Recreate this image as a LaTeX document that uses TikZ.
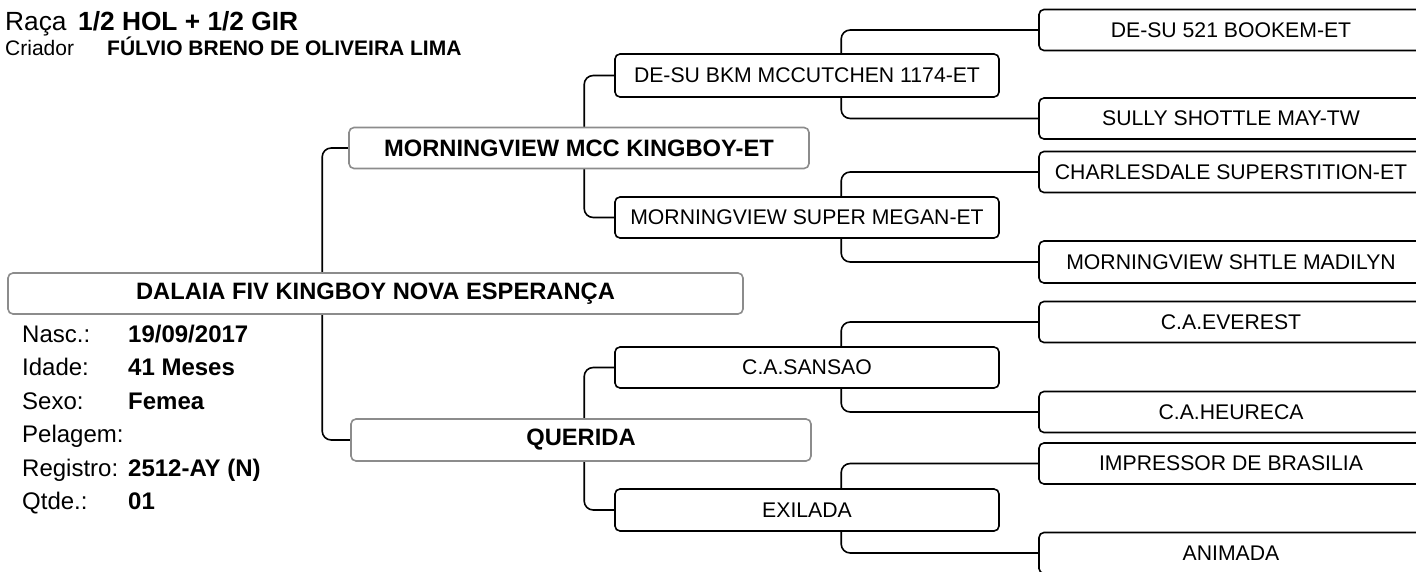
\documentclass[tikz,border=0pt]{standalone}
\usepackage{fontspec}
\setmainfont{Liberation Sans}
\usetikzlibrary{backgrounds}
\definecolor{ink}{HTML}{000000}
\definecolor{framegray}{HTML}{8C8C8C}
\tikzset{
  animalbox/.style={rectangle,rounded corners=5pt,draw=framegray,line width=1.6pt,
    fill=white,text=ink,align=center,font=\fontsize{23.7}{28}\selectfont\bfseries,
    minimum height=41pt,inner sep=0pt},
  ancestorbox/.style={rectangle,rounded corners=5pt,draw=ink,line width=1.6pt,
    fill=white,text=ink,align=center,font=\fontsize{21.2}{25}\selectfont,
    minimum width=384pt,minimum height=41pt,inner sep=0pt},
  treeline/.style={line width=1.6pt,color=ink,rounded corners=9pt},
  infolabel/.style={anchor=base west,inner sep=0pt,text=ink,font=\fontsize{24}{28}\selectfont},
  infovalue/.style={anchor=base west,inner sep=0pt,text=ink,font=\fontsize{24}{28}\selectfont\bfseries},
}

\begin{document}
\begin{tikzpicture}[x=1pt,y=-1pt]
  \useasboundingbox (0,0) rectangle (1416,572);

  % header
  \node[infolabel,font=\fontsize{26.3}{30}\selectfont] (raca) at (5,31) {Raça};
  \node[infovalue,font=\fontsize{26.3}{30}\selectfont\bfseries] (racav) at (78,31) {1/2 HOL + 1/2 GIR};
  \node[infolabel,font=\fontsize{21}{25}\selectfont] (criador) at (5,56) {Criador};
  \node[infovalue,font=\fontsize{21}{25}\selectfont\bfseries] (criadorv) at (107,56) {FÚLVIO BRENO DE OLIVEIRA LIMA};

  % animal
  \node[animalbox,minimum width=735pt] (anim) at (375.5,293.5) {DALAIA FIV KINGBOY NOVA ESPERANÇA};
  \node[infolabel] (nasc) at (22,342) {Nasc.:};
  \node[infovalue] (nascv) at (128,342) {19/09/2017};
  \node[infolabel] (idade) at (22,375.5) {Idade:};
  \node[infovalue] (idadev) at (128,375.5) {41 Meses};
  \node[infolabel] (sexo) at (22,409) {Sexo:};
  \node[infovalue] (sexov) at (128,409) {Femea};
  \node[infolabel] (pelagem) at (22,442.5) {Pelagem:};
  \node[infolabel] (registro) at (22,476) {Registro:};
  \node[infovalue] (registrov) at (128,476) {2512-AY (N)};
  \node[infolabel] (qtde) at (22,509.5) {Qtde.:};
  \node[infovalue] (qtdev) at (128,509.5) {01};

  % parents
  \node[animalbox,minimum width=460pt] (pai) at (579,148) {MORNINGVIEW MCC KINGBOY-ET};
  \node[animalbox,minimum width=460pt,minimum height=42pt] (mae) at (581,440) {QUERIDA};

  % grandparents
  \node[ancestorbox,minimum height=43pt] (avpp) at (807,75.5) {DE-SU BKM MCCUTCHEN 1174-ET};
  \node[ancestorbox] (avmp) at (807,217.5) {MORNINGVIEW SUPER MEGAN-ET};
  \node[ancestorbox] (avpm) at (807,367.5) {C.A.SANSAO};
  \node[ancestorbox,minimum height=42pt] (avmm) at (807,510) {EXILADA};

  % great-grandparents
  \node[ancestorbox] (bpp1) at (1231,30) {DE-SU 521 BOOKEM-ET};
  \node[ancestorbox] (bpp2) at (1231,118.5) {SULLY SHOTTLE MAY-TW};
  \node[ancestorbox] (bmp1) at (1231,172) {CHARLESDALE SUPERSTITION-ET};
  \node[ancestorbox,minimum height=42pt] (bmp2) at (1231,262) {MORNINGVIEW SHTLE MADILYN};
  \node[ancestorbox] (bpm1) at (1231,322) {C.A.EVEREST};
  \node[ancestorbox] (bpm2) at (1231,412) {C.A.HEURECA};
  \node[ancestorbox] (bmm1) at (1231,463.5) {IMPRESSOR DE BRASILIA};
  \node[ancestorbox] (bmm2) at (1231,553) {ANIMADA};

  \begin{scope}[on background layer]
    \draw[treeline] (pai.west) -- ++(-26,0) |- (mae.west);
    \draw[treeline] (avpp.west) -- ++(-30,0) |- (avmp.west);
    \draw[treeline] (avpm.west) -- ++(-30,0) |- (avmm.west);
    \draw[treeline] (bpp1.west) -- ++(-197,0) |- (bpp2.west);
    \draw[treeline] (bmp1.west) -- ++(-197,0) |- (bmp2.west);
    \draw[treeline] (bpm1.west) -- ++(-197,0) |- (bpm2.west);
    \draw[treeline] (bmm1.west) -- ++(-197,0) |- (bmm2.west);
  \end{scope}
\end{tikzpicture}
\end{document}
